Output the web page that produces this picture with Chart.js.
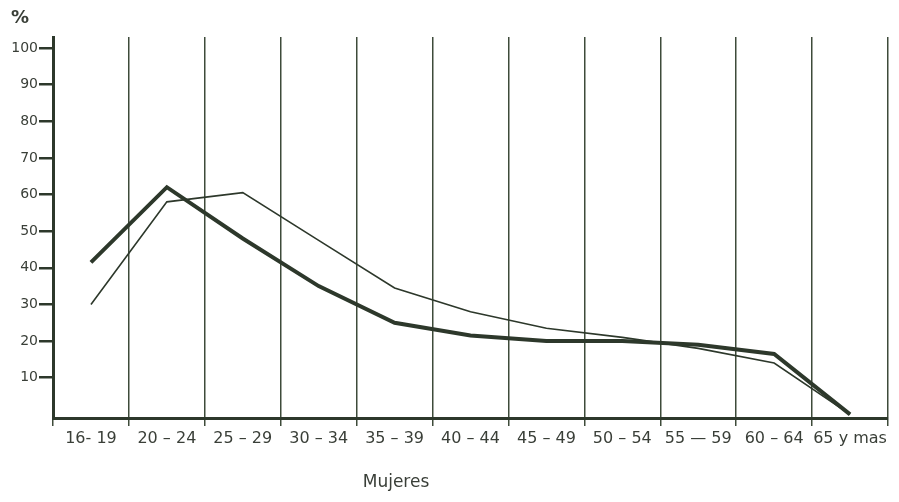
<!DOCTYPE html>
<html>
<head>
<meta charset="utf-8">
<script src="https://cdn.jsdelivr.net/npm/chart.js@4/dist/chart.umd.min.js"></script>
<style>
  html, body { margin: 0; padding: 0; background: #fff; }
  #wrap { width: 899px; height: 502px; }
</style>
</head>
<body>
<div id="wrap"><canvas id="c" width="899" height="502"></canvas></div>
<script>
const categories = ['16- 19', '20 – 24', '25 – 29', '30 – 34', '35 – 39', '40 – 44', '45 – 49', '50 – 54', '55 — 59', '60 – 64', '65 y mas'];
const seriesThick = [41.5, 62, 48, 35, 25, 21.5, 20, 20, 19, 16.5, 0];
const seriesThin = [30, 58, 60.5, 47.5, 34.5, 28, 23.5, 21, 18, 14, 0];
const yTickValues = [10, 20, 30, 40, 50, 60, 70, 80, 90, 100];
const yUnitLabel = '%';
const xTitle = 'Mujeres';

const ink = '#2d382b';
const gridInk = '#3e4b3a';
const textInk = '#3a3f38';

const textPlugin = {
  id: 'extraText',
  afterDraw(chart) {
    const ctx = chart.ctx;
    ctx.save();
    ctx.fillStyle = textInk;
    ctx.font = 'bold 18px "DejaVu Sans"';
    ctx.textAlign = 'left';
    ctx.textBaseline = 'middle';
    ctx.fillText(yUnitLabel, 11, 18);
    ctx.font = '17px "DejaVu Sans"';
    ctx.textAlign = 'center';
    ctx.fillText(xTitle, 396, 483);
    ctx.restore();
  }
};

const bgPlugin = {
  id: 'bg',
  beforeDraw(chart) {
    const ctx = chart.ctx;
    ctx.save();
    ctx.fillStyle = '#fff';
    ctx.fillRect(0, 0, chart.width, chart.height);
    ctx.restore();
  }
};

new Chart(document.getElementById('c'), {
  type: 'line',
  data: {
    labels: categories,
    datasets: [
      { label: 'Serie 1', data: seriesThick, borderColor: ink, borderWidth: 4, pointRadius: 0, tension: 0, fill: false },
      { label: 'Serie 2', data: seriesThin, borderColor: ink, borderWidth: 1.6, pointRadius: 0, tension: 0, fill: false }
    ]
  },
  options: {
    responsive: false,
    animation: false,
    devicePixelRatio: 1,
    layout: { padding: { left: 0, right: 11, top: 37, bottom: 0 } },
    plugins: { legend: { display: false }, tooltip: { enabled: false } },
    scales: {
      x: {
        type: 'category',
        offset: true,
        grid: { offset: true, color: gridInk, lineWidth: 1.5, drawOnChartArea: true, drawTicks: true, tickLength: 8 },
        border: { display: true, color: ink, width: 3 },
        ticks: { color: textInk, font: { family: 'DejaVu Sans', size: 16 }, padding: 3, maxRotation: 0, autoSkip: false },
        afterFit(scale) { scale.height = 84; }
      },
      y: {
        min: -1,
        max: 103,
        afterBuildTicks(scale) { scale.ticks = yTickValues.map(v => ({ value: v })); },
        grid: { drawOnChartArea: false, drawTicks: true, tickLength: 14, color: ink, lineWidth: 2.5 },
        border: { display: true, color: ink, width: 3 },
        ticks: { color: textInk, font: { family: 'DejaVu Sans', size: 14 }, padding: 1, callback: v => String(v) },
        afterFit(scale) { scale.width = 53; }
      }
    }
  },
  plugins: [bgPlugin, textPlugin]
});
</script>
</body>
</html>
